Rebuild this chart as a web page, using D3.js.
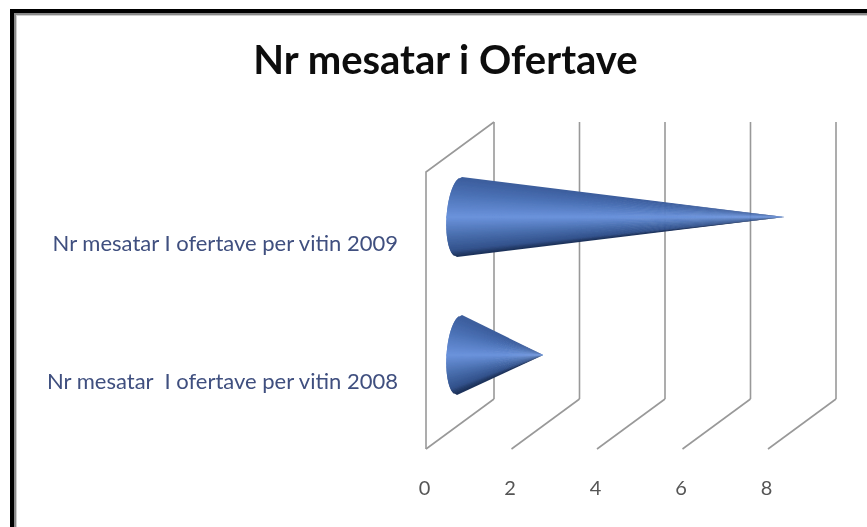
<!DOCTYPE html>
<html>
<head>
<meta charset="utf-8">
<script src="https://cdn.jsdelivr.net/npm/d3@7"></script>
<style>
    html, body { margin: 0; padding: 0; background: #fff; }
    svg { display: block; }
</style>
</head>
<body>
<div id="chart"></div>
<script>
const categories = ['Nr mesatar I ofertave per vitin 2009', 'Nr mesatar  I ofertave per vitin 2008'];
const values = [7.6, 1.95];
const tickValues = [0, 2, 4, 6, 8];
const tickLabels = ['0', '2', '4', '6', '8'];
const chartTitle = 'Nr mesatar i Ofertave';

const width = 867;
const height = 527;

// front plane of the 3d box, the back plane is shifted by depth
const xScale = d3.scaleLinear().domain([0, 8]).range([426, 768]);
const yScale = d3.scalePoint().domain(categories).range([217, 355]);
const depthX = 68;
const depthY = 50;
const frontTop = 172;
const frontBottom = 449;
const coneRadius = 40;
const coneBaseRx = 13;

// shading across the cone, 0 = top edge, 1 = bottom edge
const coneColor = d3.scaleLinear()
    .domain([0, 0.2, 0.5, 0.72, 0.92, 1])
    .range(['#3c5d9c', '#4a70b4', '#6b93dc', '#4b70b0', '#33528c', '#1c2f55']);

const svg = d3.select('#chart').append('svg')
    .attr('width', width)
    .attr('height', height);

const soften = svg.append('defs').append('filter').attr('id', 'soften');
soften.append('feGaussianBlur').attr('stdDeviation', 0.5);

// frame, black edge fading to grey on the inside (runs off the right and bottom)
const frame = svg.append('g').attr('fill', 'none').attr('filter', 'url(#soften)');
frame.append('rect').attr('x', 16.5).attr('y', 15.5).attr('width', 870).attr('height', 530)
    .attr('stroke', '#d0d0d0').attr('stroke-width', 1);
frame.append('rect').attr('x', 15).attr('y', 14).attr('width', 870).attr('height', 530)
    .attr('stroke', '#8a8a8a').attr('stroke-width', 2);
frame.append('rect').attr('x', 12).attr('y', 11).attr('width', 870).attr('height', 530)
    .attr('stroke', '#000').attr('stroke-width', 4);

const grid = svg.append('g').attr('filter', 'url(#soften)')
    .attr('stroke', '#999').attr('stroke-width', 1.6).attr('fill', 'none');

grid.selectAll('line.back').data(tickValues).join('line')
    .attr('class', 'back')
    .attr('x1', d => xScale(d) + depthX).attr('x2', d => xScale(d) + depthX)
    .attr('y1', frontTop - depthY).attr('y2', frontBottom - depthY);

grid.selectAll('line.floor').data(tickValues).join('line')
    .attr('class', 'floor')
    .attr('x1', d => xScale(d)).attr('x2', d => xScale(d) + depthX)
    .attr('y1', frontBottom).attr('y2', frontBottom - depthY);

// left wall
grid.append('path')
    .attr('d', `M${xScale(0)},${frontBottom}V${frontTop}L${xScale(0) + depthX},${frontTop - depthY}`);

// cones sit halfway into the box, each one is a fan of slices going out from the tip.
// Painted from both edges to the middle, every slice reaching over the middle
// line of the next step, so no seams show and the tip ends up light
const cones = svg.append('g').attr('filter', 'url(#soften)');
const sliceCount = 60;
const sliceOrder = d3.range(sliceCount / 2).flatMap(k => [k, sliceCount - 1 - k]);

function basePoint(base, cy, t) {
    const u = 2 * t - 1;
    const bulge = coneBaseRx * Math.sqrt(Math.max(0, 1 - u * u));
    return [base - bulge - u * 2.5 - 0.5, cy + coneRadius * u];
}

function slicePath(base, tip, cy, k) {
    const topHalf = k < sliceCount / 2;
    const from = topHalf ? k : k + 1;
    const to = topHalf ? k + 2 : k - 1;
    const a = basePoint(base, cy, from / sliceCount);
    const b = basePoint(base, cy, to / sliceCount);
    return `M${a[0]},${a[1]}L${b[0]},${b[1]}L${tip},${cy}Z`;
}

categories.forEach((d, i) => {
    const base = xScale(0) + depthX / 2;
    const tip = xScale(values[i]) + depthX / 2;
    const cy = yScale(d);
    cones.append('g').selectAll('path').data(sliceOrder).join('path')
        .attr('fill', k => coneColor((k + 0.5) / sliceCount))
        .attr('d', k => slicePath(base, tip, cy, k));
});

const texts = svg.append('g').attr('filter', 'url(#soften)');

texts.append('text')
    .attr('x', 445.5).attr('y', 74)
    .attr('text-anchor', 'middle')
    .style('font-family', 'Lato, sans-serif')
    .style('font-size', '40px')
    .style('font-weight', 700)
    .attr('fill', '#111')
    .text(chartTitle);

texts.selectAll('text.category').data(categories).join('text')
    .attr('class', 'category')
    .attr('x', 398)
    .attr('y', d => yScale(d) + 33.5)
    .attr('text-anchor', 'end')
    .style('white-space', 'pre')
    .style('font-family', 'Lato, sans-serif')
    .style('font-size', '22px')
    .attr('fill', '#3f4f7f')
    .text(d => d);

texts.selectAll('text.tick').data(tickLabels).join('text')
    .attr('class', 'tick')
    .attr('x', (d, i) => xScale(tickValues[i]) - 1.5)
    .attr('y', 495)
    .attr('text-anchor', 'middle')
    .style('font-family', 'Lato, sans-serif')
    .style('font-size', '20px')
    .attr('fill', '#555')
    .text(d => d);
</script>
</body>
</html>
